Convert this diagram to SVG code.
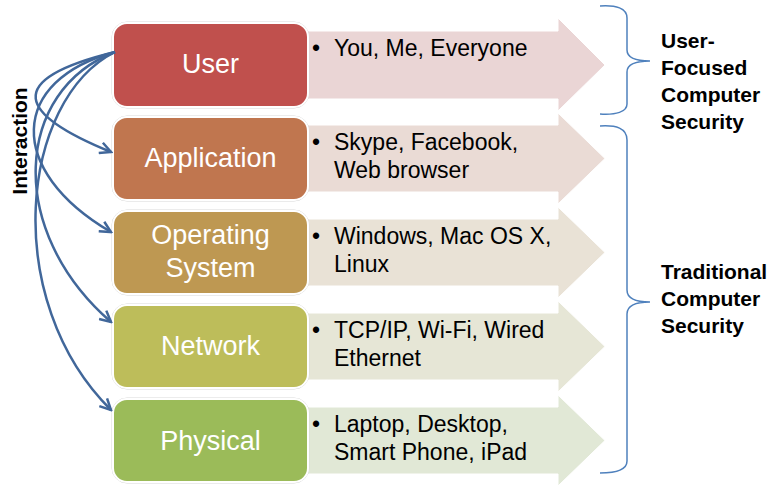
<svg xmlns="http://www.w3.org/2000/svg" width="772" height="485" viewBox="0 0 772 485">
<style>
.lbl{font-family:"Liberation Sans",Arial,sans-serif;font-size:27px;fill:#ffffff;text-anchor:middle}
.itm{font-family:"Liberation Sans",Arial,sans-serif;font-size:23px;fill:#000000}
.bold{font-family:"Liberation Sans",Arial,sans-serif;font-size:21px;font-weight:bold;fill:#000000}
.box{stroke:#ffffff;stroke-width:2}
.boxo{fill:none;stroke:#d8d8d8;stroke-width:1}
.arr{stroke:#ffffff;stroke-width:1}
.con{fill:none;stroke:#41679A;stroke-width:2.5}
.brace{fill:none;stroke:#4F81BD;stroke-width:1.5}
</style>
<defs>
<marker id="ah" viewBox="0 0 14 14" refX="12" refY="7" markerWidth="14" markerHeight="14" orient="auto" markerUnits="userSpaceOnUse">
<path d="M1,1.5 L12,7 L1,12.5" fill="none" stroke="#41679A" stroke-width="2.5" stroke-linejoin="miter"/>
</marker>
</defs>
<rect width="772" height="485" fill="#ffffff"/>

<g id="row-user">
<path class="arr" fill="#EAD5D5" d="M300,31 H558 V18 L605,65 L558,111 V99 H300 Z"/>
<rect class="boxo" x="112" y="22" width="197" height="86" rx="15"/>
<rect class="box" x="113" y="23" width="195" height="84" rx="14" fill="#C0504D"/>
<text class="lbl" x="210.5" y="73">User</text>
<text class="itm" x="312" y="56">•</text>
<text class="itm" x="334" y="56">You, Me, Everyone</text>
</g>

<g id="row-application">
<path class="arr" fill="#EADBD5" d="M300,125 H558 V113 L605,158.5 L558,204 V192 H300 Z"/>
<rect class="boxo" x="112" y="116" width="197" height="85" rx="15"/>
<rect class="box" x="113" y="117" width="195" height="83" rx="14" fill="#C0764F"/>
<text class="lbl" x="210.5" y="167">Application</text>
<text class="itm" x="312" y="150">•</text>
<text class="itm" x="334" y="150">Skype, Facebook,</text>
<text class="itm" x="334" y="178">Web browser</text>
</g>

<g id="row-os">
<path class="arr" fill="#E9E2D6" d="M300,219 H558 V207 L605,252.5 L558,298 V286 H300 Z"/>
<rect class="boxo" x="112" y="210" width="197" height="85" rx="15"/>
<rect class="box" x="113" y="211" width="195" height="83" rx="14" fill="#BE9852"/>
<text class="lbl" x="210.5" y="244">Operating</text>
<text class="lbl" x="210.5" y="277">System</text>
<text class="itm" x="312" y="244">•</text>
<text class="itm" x="334" y="244">Windows, Mac OS X,</text>
<text class="itm" x="334" y="272">Linux</text>
</g>

<g id="row-network">
<path class="arr" fill="#E6E6D6" d="M300,313 H558 V301 L605,346.5 L558,392 V380 H300 Z"/>
<rect class="boxo" x="112" y="304" width="197" height="85" rx="15"/>
<rect class="box" x="113" y="305" width="195" height="83" rx="14" fill="#BDBD5A"/>
<text class="lbl" x="210.5" y="355">Network</text>
<text class="itm" x="312" y="338">•</text>
<text class="itm" x="334" y="338">TCP/IP, Wi-Fi, Wired</text>
<text class="itm" x="334" y="366">Ethernet</text>
</g>

<g id="row-physical">
<path class="arr" fill="#E1E8D6" d="M300,407 H558 V395 L605,440.5 L558,486 V474 H300 Z"/>
<rect class="boxo" x="112" y="398" width="197" height="85" rx="15"/>
<rect class="box" x="113" y="399" width="195" height="83" rx="14" fill="#9BBB59"/>
<text class="lbl" x="210.5" y="450">Physical</text>
<text class="itm" x="312" y="432">•</text>
<text class="itm" x="334" y="432">Laptop, Desktop,</text>
<text class="itm" x="334" y="460">Smart Phone, iPad</text>
</g>

<g id="connectors">
<path class="con" marker-end="url(#ah)" d="M115,52 C0,80 20,115 111,152"/>
<path class="con" marker-end="url(#ah)" d="M115,52 C10,80 5,170 111,232"/>
<path class="con" marker-end="url(#ah)" d="M115,52 C15,90 5,230 111,322"/>
<path class="con" marker-end="url(#ah)" d="M115,52 C20,100 0,300 111,410"/>
</g>

<g id="label-interaction">
<text class="bold" transform="translate(27,141) rotate(-90)" text-anchor="middle">Interaction</text>
</g>

<g id="brace-user">
<path class="brace" d="M600,6 C616,5 627,8 627,18 L627,50 C627,58 635,61 650,61 C635,61 627,64 627,72 L627,104 C627,112 616,115 600,114"/>
<text class="bold" x="661" y="48">User-</text>
<text class="bold" x="661" y="75">Focused</text>
<text class="bold" x="661" y="102">Computer</text>
<text class="bold" x="661" y="129">Security</text>
</g>

<g id="brace-traditional">
<path class="brace" d="M600,126 C616,125 627,128 627,140 L627,290 C627,298 635,302 650,302 C635,302 627,306 627,314 L627,461 C627,470 616,473 600,473"/>
<text class="bold" x="661" y="279">Traditional</text>
<text class="bold" x="661" y="306">Computer</text>
<text class="bold" x="661" y="333">Security</text>
</g>
</svg>
